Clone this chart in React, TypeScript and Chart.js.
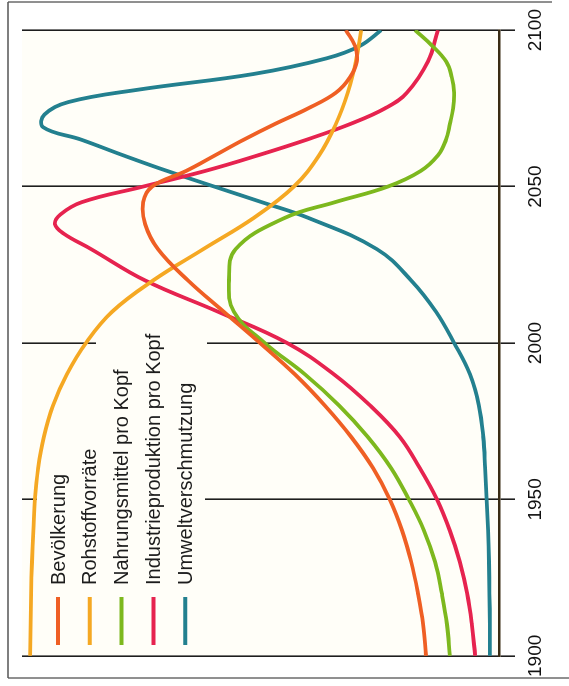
import { useEffect, useRef } from 'react';
import { Chart, registerables } from 'chart.js';

Chart.register(...registerables);

// ---- data (years on the original horizontal axis, values 0..100) ----
const yearTicks = [1900, 1950, 2000, 2050, 2100];

const seriesLabels = [
  'Bevölkerung',
  'Rohstoffvorräte',
  'Nahrungsmittel pro Kopf',
  'Industrieproduktion pro Kopf',
  'Umweltverschmutzung',
];

const bevYears = [1900, 1910, 1920, 1930, 1940, 1950, 1960, 1970, 1980, 1990, 2000, 2010, 2020, 2030, 2038, 2045, 2050, 2055, 2060, 2065, 2070, 2075, 2080, 2085, 2090, 2095, 2100];
const bevValues = [15.3, 15.9, 17.0, 18.4, 20.3, 22.9, 26.4, 31.0, 36.5, 42.8, 50.1, 57.7, 65.2, 71.5, 74.2, 74.6, 72.7, 65.6, 59.5, 53.5, 47.0, 40.0, 34.2, 31.2, 29.8, 30.2, 32.1];

const rohYears = [1900, 1910, 1920, 1930, 1940, 1950, 1960, 1970, 1980, 1990, 2000, 2010, 2020, 2030, 2040, 2050, 2060, 2070, 2080, 2090, 2100];
const rohValues = [98.3, 98.2, 98.1, 97.9, 97.6, 97.3, 96.6, 95.4, 93.5, 90.6, 86.6, 81.1, 72.5, 62.0, 51.4, 43.0, 37.7, 34.2, 31.7, 30.0, 28.9];

const nahYears = [1900, 1910, 1920, 1930, 1940, 1950, 1960, 1970, 1980, 1990, 2000, 2010, 2020, 2030, 2040, 2045, 2050, 2055, 2060, 2065, 2070, 2075, 2080, 2085, 2090, 2095, 2100];
const nahValues = [10.3, 10.9, 12.0, 13.4, 15.7, 18.9, 22.6, 27.5, 33.5, 40.7, 49.1, 55.6, 56.6, 55.2, 44.9, 34.4, 23.3, 16.4, 12.8, 11.1, 10.3, 9.6, 9.4, 9.9, 11.1, 14.0, 17.6];

const indYears = [1900, 1910, 1920, 1930, 1940, 1950, 1960, 1970, 1980, 1990, 2000, 2010, 2020, 2030, 2035, 2038, 2041, 2045, 2050, 2055, 2060, 2065, 2070, 2075, 2080, 2090, 2100];
const indValues = [5.0, 5.7, 6.7, 8.2, 10.3, 13.0, 16.6, 20.8, 27.0, 34.6, 44.4, 58.9, 74.2, 85.5, 91.3, 93.1, 92.0, 87.5, 74.6, 61.6, 50.5, 40.3, 31.2, 23.9, 19.3, 14.9, 12.8];

const umwYears = [1900, 1910, 1920, 1930, 1940, 1950, 1960, 1970, 1980, 1990, 2000, 2010, 2020, 2030, 2040, 2045, 2050, 2055, 2060, 2065, 2069, 2073, 2077, 2081, 2086, 2091, 2095, 2100];
const umwValues = [1.9, 1.9, 2.0, 2.1, 2.3, 2.6, 2.9, 3.3, 4.2, 6.1, 9.4, 13.2, 18.4, 25.6, 40.0, 49.7, 59.7, 69.6, 78.8, 87.6, 95.6, 95.3, 90.3, 75.5, 51.4, 36.1, 29.1, 24.7];

const seriesColors = ['#ef5f24', '#f5a823', '#7db81e', '#e6234f', '#23808f'];

const W = 686; // original (unrotated) width
const H = 569; // original (unrotated) height
const FONT = '"Liberation Sans", Arial, Helvetica, sans-serif';
const PLOT_BG = '#fffef8';

function pts(xs: number[], ys: number[]) {
  return xs.map((x, i) => ({ x, y: ys[i] }));
}

export default function App() {
  const ref = useRef<HTMLCanvasElement>(null);

  useEffect(() => {
    const canvas = ref.current;
    if (!canvas) return;

    const bgPlugin = {
      id: 'bg',
      beforeDraw(chart: any) {
        const { ctx, chartArea: a } = chart;
        ctx.save();
        ctx.fillStyle = '#ffffff';
        ctx.fillRect(0, 0, chart.width, chart.height);
        ctx.fillStyle = PLOT_BG;
        ctx.fillRect(a.left, a.top, a.right - a.left, a.bottom - a.top);
        ctx.restore();
      },
    };

    // legend backing interrupts two grid lines
    const gapPlugin = {
      id: 'gaps',
      beforeDatasetsDraw(chart: any) {
        const { ctx } = chart;
        const xs = chart.scales.x;
        const gaps: [number, number, number][] = [
          [1950, 37, 205],
          [2000, 96, 207],
        ];
        ctx.save();
        ctx.fillStyle = PLOT_BG;
        gaps.forEach(([yr, a, b]) => {
          const px = xs.getPixelForValue(yr);
          ctx.fillRect(px - 3, a, 6, b - a);
        });
        ctx.restore();
      },
    };

    const legendPlugin = {
      id: 'innerLegend',
      afterDatasetsDraw(chart: any) {
        const { ctx } = chart;
        ctx.save();
        chart.data.datasets.forEach((ds: any, i: number) => {
          const y = 58 + 31.8 * i;
          ctx.strokeStyle = ds.borderColor;
          ctx.lineWidth = 4;
          ctx.lineCap = 'butt';
          ctx.beginPath();
          ctx.moveTo(41, y);
          ctx.lineTo(89, y);
          ctx.stroke();
          ctx.fillStyle = '#1c1c1c';
          ctx.font = `20px ${FONT}`;
          ctx.textBaseline = 'middle';
          ctx.textAlign = 'left';
          ctx.fillText(ds.label, 101, y + 1);
        });
        ctx.restore();
      },
    };

    const framePlugin = {
      id: 'frame',
      afterDraw(chart: any) {
        const { ctx } = chart;
        ctx.save();
        ctx.strokeStyle = '#555';
        ctx.lineWidth = 1.3;
        ctx.beginPath();
        ctx.moveTo(8, 8);
        ctx.lineTo(684, 8);
        ctx.moveTo(684, 8);
        ctx.lineTo(684, 552);
        ctx.moveTo(8, 8);
        ctx.lineTo(8, H);
        ctx.stroke();
        ctx.restore();
      },
    };

    const chart = new Chart(canvas, {
      type: 'line',
      data: {
        datasets: [
          { label: seriesLabels[0], data: pts(bevYears, bevValues), borderColor: seriesColors[0] },
          { label: seriesLabels[1], data: pts(rohYears, rohValues), borderColor: seriesColors[1] },
          { label: seriesLabels[2], data: pts(nahYears, nahValues), borderColor: seriesColors[2] },
          { label: seriesLabels[3], data: pts(indYears, indValues), borderColor: seriesColors[3] },
          { label: seriesLabels[4], data: pts(umwYears, umwValues), borderColor: seriesColors[4] },
        ],
      },
      options: {
        animation: false,
        responsive: false,
        layout: { padding: { left: 29, right: 29, top: 22, bottom: 0 } },
        elements: {
          point: { radius: 0 },
          line: { borderWidth: 3.8, tension: 0.4, fill: false, capBezierPoints: true },
        },
        plugins: {
          legend: { display: false },
          tooltip: { enabled: false },
        },
        scales: {
          x: {
            type: 'linear',
            min: yearTicks[0],
            max: yearTicks[yearTicks.length - 1],
            afterFit: (s: any) => {
              s.height = 70;
            },
            afterBuildTicks: (s: any) => {
              s.ticks = yearTicks.map((v) => ({ value: v }));
            },
            ticks: {
              callback: (v: any) => String(v),
              font: { family: FONT, size: 19 },
              color: '#111',
              padding: 9,
              maxRotation: 0,
              autoSkip: false,
            },
            grid: { color: '#1e1e1e', lineWidth: 1.6, tickLength: 16, drawTicks: true },
            border: { display: true, color: '#3a2c14', width: 2.5 },
          },
          y: { display: false, min: 0, max: 100 },
        },
      } as any,
      plugins: [bgPlugin, gapPlugin, legendPlugin, framePlugin],
    });

    return () => chart.destroy();
  }, []);

  return (
    <div
      style={{
        position: 'fixed',
        left: 0,
        top: 0,
        width: H,
        height: W,
        background: '#fff',
        overflow: 'hidden',
      }}
    >
      <div
        style={{
          position: 'absolute',
          left: 0,
          top: 0,
          width: W,
          height: H,
          transformOrigin: '0 0',
          transform: `translate(0px, ${W}px) rotate(-90deg)`,
        }}
      >
        <canvas ref={ref} width={W} height={H} style={{ display: 'block' }} />
      </div>
    </div>
  );
}
